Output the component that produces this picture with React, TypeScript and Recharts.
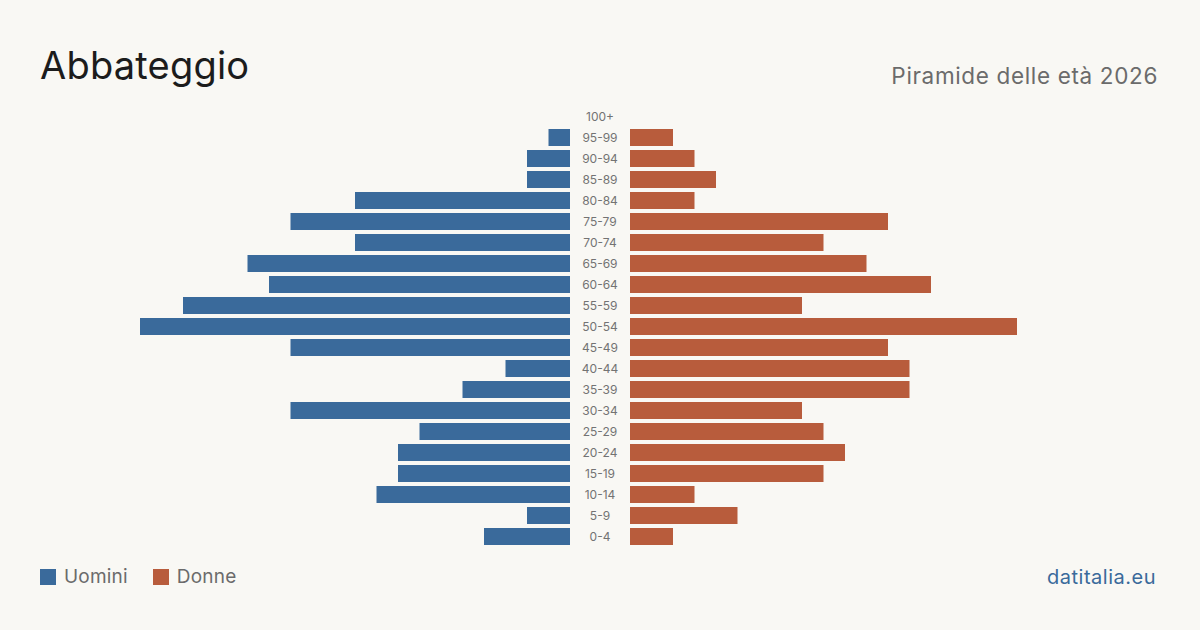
import React from "react";
import { BarChart, Bar, XAxis, YAxis } from "recharts";

const ageGroups = [
  "100+", "95-99", "90-94", "85-89", "80-84", "75-79", "70-74", "65-69",
  "60-64", "55-59", "50-54", "45-49", "40-44", "35-39", "30-34", "25-29",
  "20-24", "15-19", "10-14", "5-9", "0-4",
];
const men = [0, 1, 2, 2, 10, 13, 10, 15, 14, 18, 20, 13, 3, 5, 13, 7, 8, 8, 9, 2, 4];
const women = [0, 2, 3, 4, 3, 12, 9, 11, 14, 8, 18, 12, 13, 13, 8, 9, 10, 9, 3, 5, 2];
const axisMax = 20;

const MEN_COLOR = "#3a6a9b";
const WOMEN_COLOR = "#b85c3c";
const BG = "#f9f8f4";
const FONT = "Inter, 'Noto Sans', sans-serif";

const rows = ageGroups.map((age, i) => ({ age, men: men[i], women: women[i] }));

const CHART_TOP = 106;
const CHART_HEIGHT = 441;
const SIDE_WIDTH = 430;
const LABEL_COL = 60;
const LEFT_X = 140;

const AgeTick = (props: any) => {
  const { x, y, payload } = props;
  return (
    <text
      x={x - LABEL_COL / 2}
      y={y}
      dy={4}
      textAnchor="middle"
      fontSize={12}
      fill="#737373"
      fontFamily={FONT}
    >
      {payload.value}
    </text>
  );
};

export default function App() {
  return (
    <div
      style={{
        position: "absolute",
        left: 0,
        top: 0,
        width: 1200,
        height: 630,
        background: BG,
        fontFamily: FONT,
        overflow: "hidden",
      }}
    >
      <div
        style={{
          position: "absolute",
          left: 40,
          top: 41,
          fontSize: 38,
          color: "#1c1c1c",
          lineHeight: "48px",
          letterSpacing: 0.2,
        }}
      >
        Abbateggio
      </div>
      <div
        style={{
          position: "absolute",
          right: 42,
          top: 62,
          fontSize: 22.5,
          color: "#6b6b6b",
          lineHeight: "28px",
          letterSpacing: 0.65,
        }}
      >
        Piramide delle età 2026
      </div>

      {/* men: bars grow leftwards from the centre column */}
      <div style={{ position: "absolute", left: LEFT_X, top: CHART_TOP }}>
        <BarChart
          width={SIDE_WIDTH}
          height={CHART_HEIGHT}
          data={rows}
          layout="vertical"
          margin={{ top: 0, right: 0, bottom: 0, left: 0 }}
          barCategoryGap={0}
        >
          <XAxis type="number" domain={[0, axisMax]} reversed hide />
          <YAxis type="category" dataKey="age" hide />
          <Bar dataKey="men" fill={MEN_COLOR} barSize={17} isAnimationActive={false} />
        </BarChart>
      </div>

      {/* women: age labels on the shared centre column */}
      <div style={{ position: "absolute", left: LEFT_X + SIDE_WIDTH, top: CHART_TOP }}>
        <BarChart
          width={SIDE_WIDTH + LABEL_COL}
          height={CHART_HEIGHT}
          data={rows}
          layout="vertical"
          margin={{ top: 0, right: 0, bottom: 0, left: 0 }}
          barCategoryGap={0}
        >
          <XAxis type="number" domain={[0, axisMax]} hide />
          <YAxis
            type="category"
            dataKey="age"
            width={LABEL_COL}
            axisLine={false}
            tickLine={false}
            tickSize={0}
            tickMargin={0}
            interval={0}
            tick={<AgeTick />}
          />
          <Bar dataKey="women" fill={WOMEN_COLOR} barSize={17} isAnimationActive={false} />
        </BarChart>
      </div>

      {/* legend */}
      <div
        style={{
          position: "absolute",
          left: 40,
          top: 565,
          display: "flex",
          alignItems: "center",
          fontSize: 19,
          color: "#6b6b6b",
          lineHeight: "24px",
          letterSpacing: 0.2,
        }}
      >
        <span style={{ width: 16, height: 16, background: MEN_COLOR, display: "inline-block", marginRight: 8 }} />
        <span style={{ marginRight: 25 }}>Uomini</span>
        <span style={{ width: 16, height: 16, background: WOMEN_COLOR, display: "inline-block", marginRight: 8 }} />
        <span>Donne</span>
      </div>
      <div
        style={{
          position: "absolute",
          right: 44,
          top: 565,
          fontSize: 20,
          color: MEN_COLOR,
          lineHeight: "24px",
          letterSpacing: 0.5,
        }}
      >
        datitalia.eu
      </div>
    </div>
  );
}
